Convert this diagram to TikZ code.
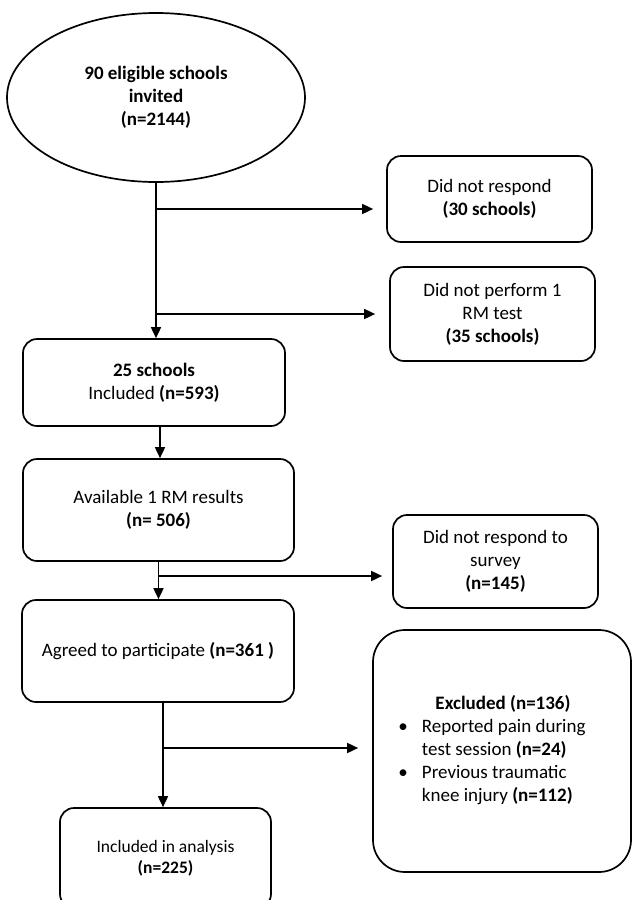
\documentclass[tikz,border=0pt]{standalone}
\usepackage{fontspec}
\setmainfont{Carlito}
\usetikzlibrary{arrows.meta,shapes.geometric}
\newcommand{\fnorm}{\fontsize{19pt}{23pt}\selectfont}
\newcommand{\fsmall}{\fontsize{17.5pt}{21pt}\selectfont}
\begin{document}
\begin{tikzpicture}[x=1pt,y=-1pt,
  box/.style={draw, line width=1.7pt, rounded corners=14pt, align=center, font=\fnorm, inner sep=0pt},
  arr/.style={line width=1.7pt, -{Triangle[length=11pt,width=10pt]}}]
\useasboundingbox (0,0) rectangle (632,900);
% nodes
\node[draw, ellipse, line width=1.7pt, minimum width=298pt, minimum height=169pt, inner sep=0pt,
      align=center, font=\fnorm\bfseries] (ell) at (156,97.5) {90 eligible schools\\invited\\(n=2144)};
\node[box, minimum width=205pt, minimum height=86pt] (b1) at (489.5,199) {Did not respond\\\textbf{(30 schools)}};
\node[box, minimum width=205pt, minimum height=94pt] (b2) at (492.5,314) {Did not perform 1\\RM test\\\textbf{(35 schools)}};
\node[box, minimum width=262pt, minimum height=87pt] (inc) at (154,382.5) {\textbf{25 schools}\\Included \textbf{(n=593)}};
\node[box, minimum width=271pt, minimum height=102pt] (av) at (158.5,510) {Available 1 RM results\\\textbf{(n= 506)}};
\node[box, minimum width=205pt, minimum height=93pt] (b3) at (495.5,561.5) {Did not respond to\\survey\\\textbf{(n=145)}};
\node[box, minimum width=272pt, minimum height=102pt] (ag) at (158,651) {Agreed to participate \textbf{(n=361 )}};
\node[box, rounded corners=32pt, minimum width=258pt, minimum height=242pt] (ex) at (502,751)
  {\setlength{\tabcolsep}{0pt}\begin{tabular}{ll}
   \multicolumn{2}{c}{\hspace{22pt}\textbf{Excluded (n=136)}}\\
   •\hspace{14pt} & Reported pain during\\
    & test session \textbf{(n=24)}\\
   •\hspace{14pt} & Previous traumatic\\
    & knee injury \textbf{(n=112)}
   \end{tabular}\hspace{20pt}};
\node[box, font=\fsmall, minimum width=211pt, minimum height=100pt] (an) at (165.5,858) {Included in analysis\\\textbf{(n=225)}};
% connectors
\draw[arr] (ell.south) -- (ell.south |- inc.north);
\coordinate (j1) at (156,209);
\coordinate (j2) at (156,314);
\draw[arr, shorten >=13pt] (j1) -- (j1 -| b1.west);
\draw[arr, shorten >=14pt] (j2) -- (j2 -| b2.west);
\draw[arr] ([xshift=6pt]inc.south) -- ([xshift=6pt]inc.south |- av.north);
\draw[arr] (av.south) -- (av.south |- ag.north);
\coordinate (j3) at (158.5,576);
\draw[arr, shorten >=10pt] (j3) -- (j3 -| b3.west);
\draw[arr] ([xshift=5pt]ag.south) -- ([xshift=5pt]ag.south |- an.north);
\coordinate (j4) at (163,748);
\draw[arr, shorten >=14pt] (j4) -- (j4 -| ex.west);
\end{tikzpicture}
\end{document}
